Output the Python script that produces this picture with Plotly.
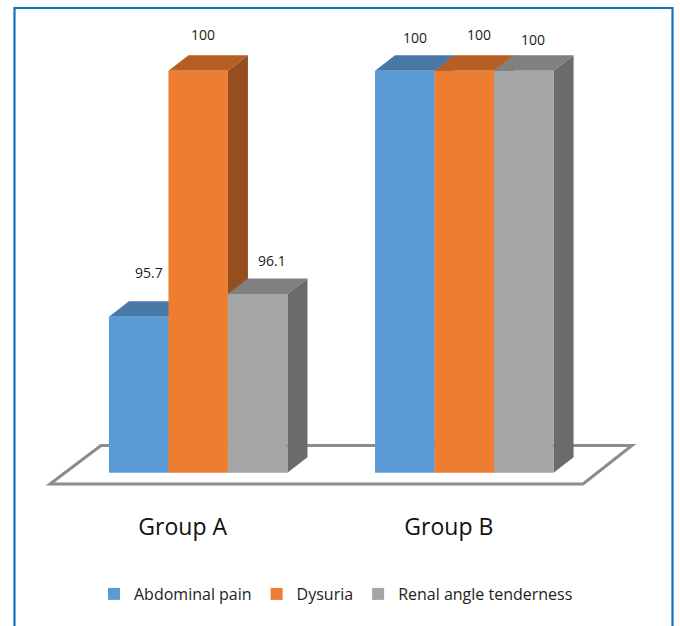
import plotly.graph_objects as go

groups = ["Group A", "Group B"]
series_names = ["Abdominal pain", "Dysuria", "Renal angle tenderness"]
abdominal = [95.7, 100]
dysuria = [100, 100]
renal = [96.1, 100]
series_values = [abdominal, dysuria, renal]
front_colors = ["#5B9BD5", "#ED7D31", "#A5A5A5"]
top_colors = ["#4878A6", "#B55F25", "#808080"]
side_colors = ["#3E6A94", "#954F1E", "#6B6B6B"]
label_dx = [[10.5, 10], [4.3, 15], [14, 9.5]]
label_dy = [[44, 33], [36, 36], [33.5, 31]]

W, H = 680, 626
BASE = 92.975
PX_PER_UNIT = 57.2
PX_PER_GROUP = 266.1
Y_BASE_PX = 472.7
X0_PX = 198.2
PLOT_BOTTOM_PX = 500
BAR_W = 59.5 / PX_PER_GROUP
DX = 20 / PX_PER_GROUP
DY = 15.5 / PX_PER_UNIT
FONT = "Open Sans"


def xu(px):
    return (px - X0_PX) / PX_PER_GROUP


def yu(px):
    return BASE + (Y_BASE_PX - px) / PX_PER_UNIT


def poly(points):
    return "M" + " L".join(f"{x:.5f},{y:.5f}" for x, y in points) + " Z"


shapes = []
# floor
shapes.append(dict(type="path", layer="below", xref="x", yref="y",
                   path=poly([(xu(50), yu(484)), (xu(101), yu(445.5)), (xu(632), yu(445.5)), (xu(583), yu(484))]),
                   line=dict(color="#8C8C8C", width=3), fillcolor="#FFFFFF"))

annotations = []
fig = go.Figure()
for s, (name, values) in enumerate(zip(series_names, series_values)):
    fig.add_trace(go.Bar(x=[0, 1], y=[v - BASE for v in values], base=BASE, name=name,
                         marker=dict(color=front_colors[s], line=dict(width=0)),
                         hovertext=[str(v) for v in values], hoverinfo="text"))
    for g, v in enumerate(values):
        c = g + (s - 1) * BAR_W
        l, r = c - BAR_W / 2, c + BAR_W / 2
        shapes.append(dict(type="path", layer="below", xref="x", yref="y",
                           path=poly([(r, BASE), (r + DX, BASE + DY), (r + DX, v + DY), (r, v)]),
                           fillcolor=side_colors[s], line=dict(width=0)))
        shapes.append(dict(type="path", layer="below", xref="x", yref="y",
                           path=poly([(l, v), (l + DX, v + DY), (r + DX, v + DY), (r, v)]),
                           fillcolor=top_colors[s], line=dict(width=0)))
        annotations.append(dict(x=c, y=v, xref="x", yref="y", text=str(v), showarrow=False,
                                xshift=label_dx[s][g], yshift=label_dy[s][g],
                                font=dict(family=FONT, size=14, color="#1a1a1a")))

# outer frame, open at the bottom
shapes.append(dict(type="path", layer="above", xref="paper", yref="paper",
                   path=f"M{14.5/W},0 L{14.5/W},{(H-8)/H} L{672.5/W},{(H-8)/H} L{672.5/W},0",
                   line=dict(color="#0F72BE", width=2.2)))

label_shift = 15.5 / PX_PER_GROUP
fig.update_layout(
    width=W, height=H, margin=dict(l=0, r=0, t=0, b=0, autoexpand=False),
    paper_bgcolor="white", plot_bgcolor="rgba(0,0,0,0)",
    barmode="group", bargap=1 - 3 * BAR_W, bargroupgap=0,
    shapes=shapes, annotations=annotations,
    xaxis=dict(range=[xu(0), xu(W)], domain=[0, 1], tickmode="array",
               tickvals=[i - label_shift for i in range(len(groups))], ticktext=groups,
               showgrid=False, zeroline=False, showline=False, ticks="", ticklabelstandoff=11,
               tickfont=dict(family=FONT, size=23, color="#111111"), fixedrange=True),
    yaxis=dict(range=[yu(PLOT_BOTTOM_PX), yu(0)], domain=[(H - PLOT_BOTTOM_PX) / H, 1], visible=False, fixedrange=True),
    legend=dict(orientation="h", x=94 / W, xanchor="left", y=(H - 594) / H, yanchor="middle",
                font=dict(family=FONT, size=16, color="#222222"), bgcolor="rgba(0,0,0,0)"),
    showlegend=True,
)
fig.write_html("out.html", config=dict(displayModeBar=False), post_script="document.body.style.margin='0';")
